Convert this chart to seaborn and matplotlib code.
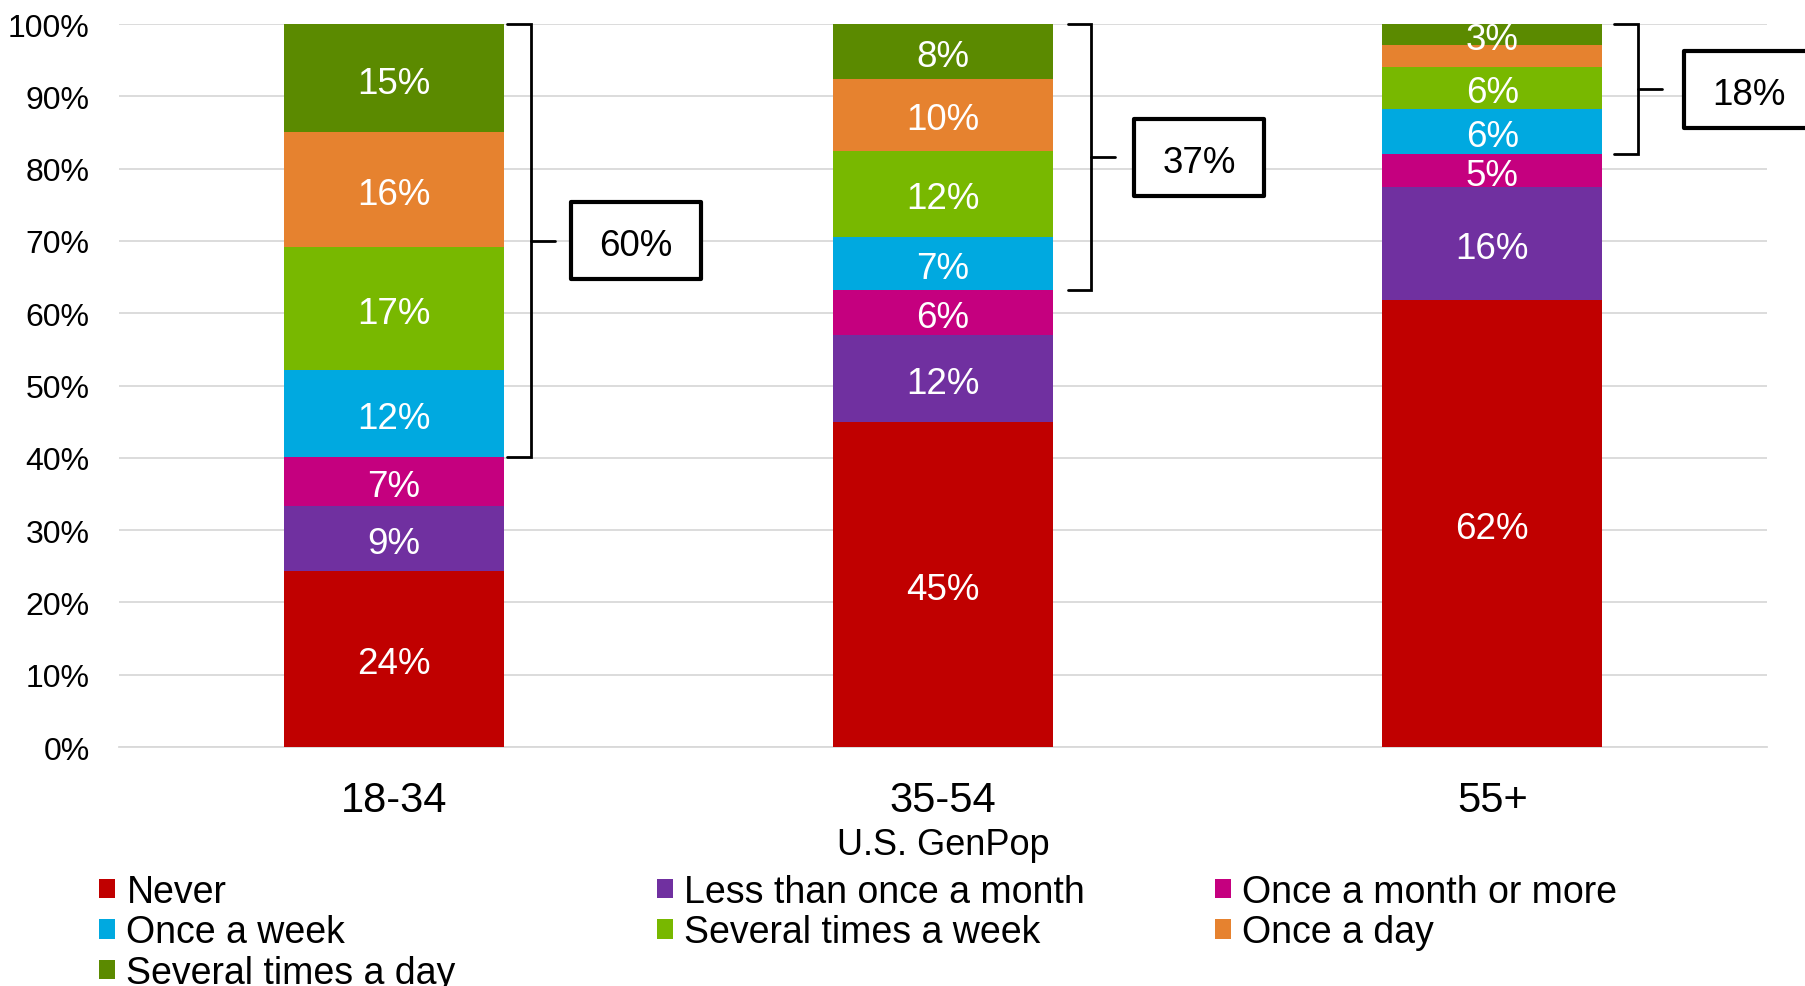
import numpy as np
import pandas as pd
import matplotlib
matplotlib.use("Agg")
import matplotlib.pyplot as plt
import matplotlib.transforms as mtransforms
import seaborn as sns
from matplotlib.patches import Patch, Rectangle

# ---------------- data ----------------
groups = ["18-34", "35-54", "55+"]
series = ["Never", "Less than once a month", "Once a month or more",
          "Once a week", "Several times a week", "Once a day",
          "Several times a day"]
colors = ["#C00000", "#7030A0", "#C5007F", "#00A9E0", "#78B800",
          "#E6822F", "#5B8A00"]
v_18_34 = [24.4, 8.9, 6.8, 12.0, 17.0, 15.9, 15.0]
v_35_54 = [44.9, 12.1, 6.2, 7.3, 12.0, 9.9, 7.6]
v_55_plus = [61.8, 15.6, 4.6, 6.2, 5.9, 3.0, 2.9]
hidden_labels = [("55+", "Once a day")]
bracket_from = "Once a week"          # bracket spans this series up to the top
bracket_totals = ["60%", "37%", "18%"]
y_ticks = [0, 10, 20, 30, 40, 50, 60, 70, 80, 90, 100]
x_title = "U.S. GenPop"

# legend columns (row-major reading order of the reference)
legend_cols = [["Never", "Once a week", "Several times a day"],
               ["Less than once a month", "Several times a week"],
               ["Once a month or more", "Once a day"]]

# ---------------- table ----------------
vals = {"18-34": v_18_34, "35-54": v_35_54, "55+": v_55_plus}
rows = []
for g in groups:
    cum = np.cumsum(vals[g])
    for k, s in enumerate(series):
        rows.append(dict(group=g, series=s, value=vals[g][k],
                         cum=cum[k], base=cum[k] - vals[g][k]))
df = pd.DataFrame(rows)

# ---------------- style ----------------
sns.set_theme(style="white")
plt.rcParams["font.family"] = ["Liberation Sans", "DejaVu Sans"]
plt.rcParams["text.color"] = "black"
plt.rcParams["axes.labelcolor"] = "black"
plt.rcParams["xtick.color"] = "black"
plt.rcParams["ytick.color"] = "black"

fig = plt.figure(figsize=(18.05, 9.87), dpi=100)
ax = fig.add_axes([119 / 1805, 1 - 748 / 987, (1767 - 119) / 1805, (748 - 25) / 987])

# stacked bars: draw cumulative totals from top series down
for k in reversed(range(len(series))):
    sub = df[df["series"] == series[k]]
    sns.barplot(data=sub, x="group", y="cum", order=groups, color=colors[k],
                width=0.4, saturation=1, errorbar=None, ax=ax,
                linewidth=0, zorder=3)

ax.set_xlim(-0.5, 2.5)
ax.set_ylim(0, 100)
ax.set_yticks(y_ticks)
ax.set_yticklabels([f"{t}%" for t in y_ticks])
ax.yaxis.grid(True, color="#D9D9D9", linewidth=1.3, zorder=0)
ax.set_axisbelow(True)
for s in ["left", "right", "top"]:
    ax.spines[s].set_visible(False)
ax.spines["bottom"].set_color("#D9D9D9")
ax.spines["bottom"].set_linewidth(1.3)
ax.tick_params(axis="y", length=0, pad=21, labelsize=23, labelcolor="black")
ax.tick_params(axis="x", length=0, pad=24, labelsize=30, labelcolor="black")
ax.set_ylabel("")
ax.set_xlabel(x_title, fontsize=26, labelpad=5, color="black")

# text slightly below geometric centre, like the reference
txt_tr = mtransforms.offset_copy(ax.transData, fig=fig, x=0, y=-5, units="dots")

# segment labels
for _, r in df.iterrows():
    if (r["group"], r["series"]) in hidden_labels:
        continue
    xi = groups.index(r["group"])
    ax.text(xi, r["base"] + r["value"] / 2, f"{round(r['value'])}%",
            color="white", fontsize=26.5, ha="center", va="center",
            zorder=5, clip_on=False, transform=txt_tr)

# brackets + boxes (layout offsets from bar centre, in x data units)
br_x = [(0.206, 0.250, 0.294, 0.322),
        (0.227, 0.270, 0.314, 0.347),
        (0.221, 0.265, 0.309, 0.349)]
box_w, box_h = 0.2375, 10.65
b_idx = series.index(bracket_from)
for gi, g in enumerate(groups):
    sub = df[df["group"] == g]
    y0 = sub["base"].iloc[b_idx]
    y1 = sub["cum"].iloc[-1]
    xa, xb, xt, xbox = [gi + o for o in br_x[gi]]
    ym = (y0 + y1) / 2
    ax.plot([xa, xb, xb, xa], [y1, y1, y0, y0], color="black", lw=2,
            clip_on=False, zorder=4, solid_joinstyle="miter")
    ax.plot([xb, xt], [ym, ym], color="black", lw=2, clip_on=False, zorder=4)
    ax.add_patch(Rectangle((xbox, ym - box_h / 2), box_w, box_h,
                           facecolor="white", edgecolor="black", lw=3,
                           clip_on=False, zorder=4, joinstyle="round"))
    ax.text(xbox + box_w / 2, ym, bracket_totals[gi], fontsize=26.5,
            ha="center", va="center", color="black", zorder=5,
            transform=txt_tr, clip_on=False)

# legend: three columns placed like the reference
col_x = [99, 657, 1215]
for cx, labels in zip(col_x, legend_cols):
    handles = [Patch(facecolor=colors[series.index(l)], edgecolor="none")
               for l in labels]
    fig.legend(handles, labels, loc="upper left",
               bbox_to_anchor=(cx / 1805, 1 - 875 / 987),
               frameon=False, fontsize=27, handlelength=0.43,
               handleheight=0.43, handletextpad=0.3, labelspacing=0.12,
               borderpad=0, borderaxespad=0, labelcolor="black")

fig.savefig("out.png", dpi=100)
